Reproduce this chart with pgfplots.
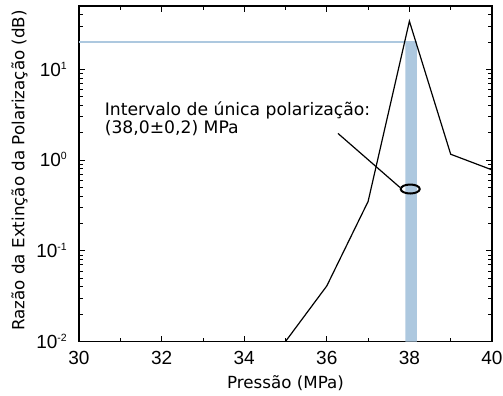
\documentclass[border=0pt]{standalone}
\usepackage{pgfplots}
\pgfplotsset{compat=1.18}
\usepackage{fontspec}
\setmainfont{DejaVu Sans}
\newfontfamily\tickfont{Liberation Sans}
\definecolor{bandblue}{RGB}{173,200,223}
\newcommand{\tsup}[1]{\raisebox{7bp}{\fontsize{10.5bp}{10.5bp}\selectfont #1}}
\begin{document}
\begin{tikzpicture}
\begin{axis}[
  at={(0,0)}, anchor=south west,
  scale only axis, width=413bp, height=335.5bp,
  xmin=30, xmax=40, ymode=log, ymin=0.01, ymax=50,
  xtick={30,32,34,36,38,40}, minor xtick={31,33,35,37,39},
  xticklabels={30,32,34,36,38,40},
  ytick={0.01,0.1,1,10},
  yticklabels={10\tsup{-2},10\tsup{-1},10\tsup{0},10\tsup{1}},
  minor ytick={0.02,0.03,0.04,0.05,0.06,0.07,0.08,0.09,0.2,0.3,0.4,0.5,0.6,0.7,0.8,0.9,2,3,4,5,6,7,8,9,20,30,40},
  major tick length=6bp, minor tick length=4bp,
  tick style={black, line width=0.8bp},
  axis line style={black, line width=1.1bp},
  tick align=inside,
  xticklabel style={font=\tickfont\fontsize{19bp}{19bp}\selectfont, inner sep=0pt, anchor=base, yshift=-22.5bp},
  yticklabel style={font=\tickfont\fontsize{19bp}{19bp}\selectfont, inner sep=0pt, anchor=base east, xshift=-12bp, yshift=-6.8bp},
  xlabel={Pressão (MPa)},
  ylabel={Razão da Extinção da Polarização (dB)},
  label style={font=\fontsize{16.7bp}{19bp}\selectfont, inner sep=0pt},
  xlabel style={at={(axis description cs:0.5,-0.1386)}, anchor=base},
  ylabel style={at={(axis description cs:-0.132,0.51)}, anchor=base},
]
\addplot[draw=none, fill=bandblue] coordinates {(37.9,0.01) (38.18,0.01) (38.18,20) (37.9,20) (37.9,0.01)};
\addplot[bandblue, line width=1.5bp] coordinates {(30,20) (38.18,20)};
\addplot[black, line width=1.2bp] coordinates {(35,0.01) (36,0.041) (37,0.35) (38,34) (39,1.16) (40,0.78)};
\draw[black, line width=1.2bp] (axis cs:36.27,1.97) -- (axis cs:37.77,0.5);
\draw[black, line width=2bp] (axis cs:38.02,0.48) ellipse [x radius=9.5bp, y radius=4.5bp];
\node[anchor=base west, inner sep=0pt, font=\fontsize{17.2bp}{19bp}\selectfont] at (axis cs:30.62,3.13) {Intervalo de única polarização:};
\node[anchor=base west, inner sep=0pt, font=\fontsize{17.2bp}{19bp}\selectfont] at (axis cs:30.62,1.97) {(38,0±0,2) MPa};
\end{axis}
\pgfresetboundingbox
\path[use as bounding box] (-79bp,-54.5bp) rectangle (424bp,341.5bp);
\end{tikzpicture}
\end{document}
